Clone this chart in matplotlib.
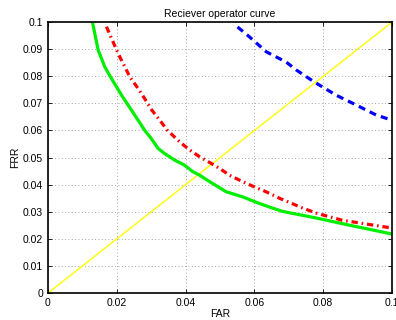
import matplotlib
matplotlib.use("Agg")
import matplotlib.pyplot as plt

green_far = [0.01295, 0.01459, 0.01652, 0.01846, 0.02136, 0.0233, 0.0262, 0.0281, 0.030, 0.032,
             0.0339, 0.0368, 0.0397, 0.0421, 0.0441, 0.047, 0.0518, 0.0566, 0.0614, 0.0643, 0.068,
             0.078, 0.0875, 0.1]
green_frr = [0.1, 0.0897, 0.0835, 0.0792, 0.0731, 0.0694, 0.0638, 0.0601, 0.0571, 0.0534,
             0.0515, 0.0491, 0.0472, 0.0448, 0.0435, 0.0411, 0.0374, 0.0355, 0.0331, 0.0318, 0.0302,
             0.0277, 0.0251, 0.0218]

red_far = [0.017, 0.01893, 0.0204, 0.0238, 0.0262, 0.0281, 0.0302, 0.0325, 0.0347, 0.0383,
           0.0412, 0.0441, 0.0474, 0.0499, 0.0528, 0.0566, 0.06, 0.0634, 0.0673, 0.074, 0.078, 0.0855, 0.1]
red_frr = [0.0983, 0.0927, 0.0884, 0.0798, 0.0755, 0.0718, 0.0675, 0.0638, 0.0601, 0.0558,
           0.0528, 0.0503, 0.0479, 0.046, 0.0435, 0.0411, 0.0392, 0.0374, 0.035, 0.0314, 0.0295, 0.0269, 0.024]

blue_far = [0.0551, 0.0586, 0.0635, 0.0693, 0.0722, 0.0774, 0.0838, 0.0896, 0.0954, 0.1]
blue_frr = [0.0982, 0.0945, 0.089, 0.0852, 0.0823, 0.0779, 0.073, 0.0694, 0.0657, 0.0638]

diag = [0, 0.1]

ticks_x = [0, 0.02, 0.04, 0.06, 0.08, 0.1]
ticks_y = [0, 0.01, 0.02, 0.03, 0.04, 0.05, 0.06, 0.07, 0.08, 0.09, 0.1]

plt.rcParams['font.family'] = ['Liberation Sans', 'DejaVu Sans']
fig = plt.figure(figsize=(3.96, 3.2), dpi=100)
ax = fig.add_axes([0.121, 0.084, 0.869, 0.847])

ax.plot(diag, diag, color='#ffff00', lw=1.0)
ax.plot(green_far, green_frr, color='#00ee00', lw=2.3)
ax.plot(red_far, red_frr, color='#ff0000', lw=2.3, linestyle=(0, (2, 1.2, 0.5, 1.2)))
ax.plot(blue_far, blue_frr, color='#0000ff', lw=2.3, linestyle=(0, (2.2, 1.6)))

ax.set_xlim(0, 0.1)
ax.set_ylim(0, 0.1)
ax.set_xticks(ticks_x)
ax.set_xticklabels(['0', '0.02', '0.04', '0.06', '0.08', '0.1'])
ax.set_yticks(ticks_y)
ax.set_yticklabels(['0', '0.01', '0.02', '0.03', '0.04', '0.05', '0.06', '0.07', '0.08', '0.09', '0.1'])
ax.grid(True, linestyle=(0, (1, 3)), color='#888888', lw=0.6)
ax.tick_params(direction='in', top=True, right=True, labelsize=7.5, length=3, width=0.6)
for s in ax.spines.values():
    s.set_linewidth(1.2)
ax.set_title('Reciever operator curve', fontsize=7.5, pad=4)
ax.set_xlabel('FAR', fontsize=7.5, labelpad=1)
ax.set_ylabel('FRR', fontsize=7.5, labelpad=2)

fig.savefig('out.png', dpi=100)
